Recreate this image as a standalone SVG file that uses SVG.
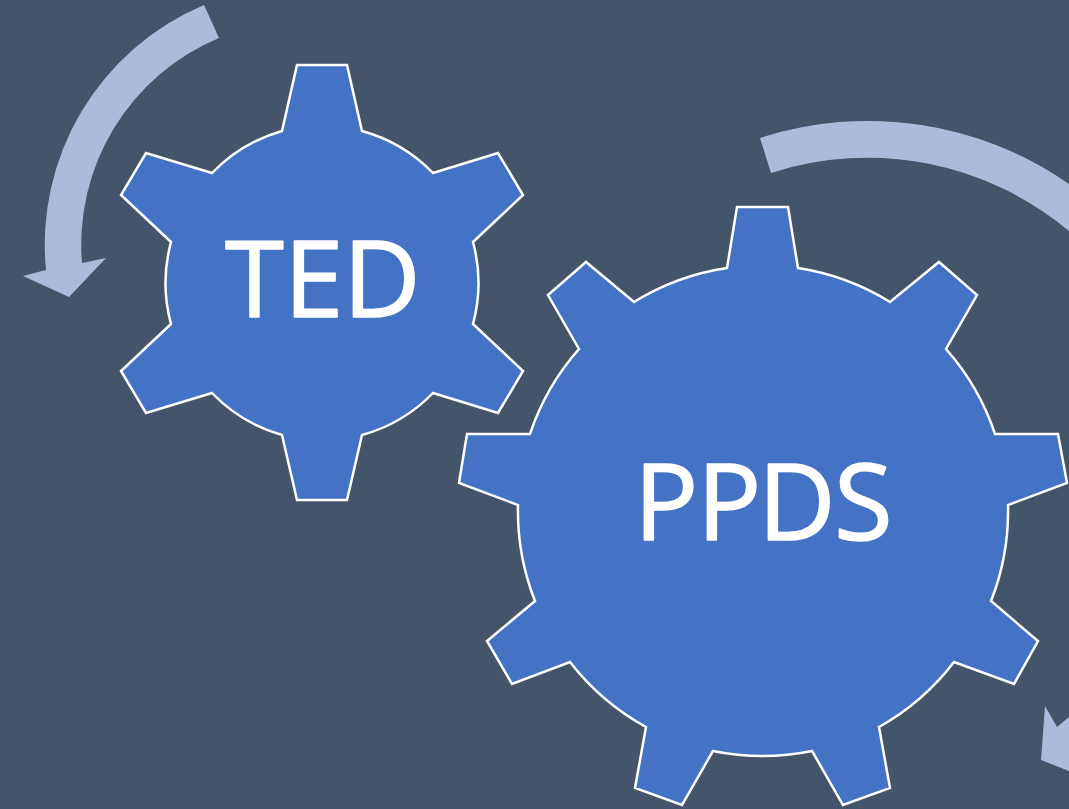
<svg xmlns="http://www.w3.org/2000/svg" width="1069" height="809" viewBox="0 0 1069 809">
<style>
.gear{fill:#4472C4;stroke:#fff;stroke-width:2.5;stroke-linejoin:miter}
.arrow{fill:#AEBADC}
.label{font-family:"Open Sans","Liberation Sans",sans-serif;font-size:107px;fill:#fff;stroke:#fff;stroke-width:1.5;stroke-linejoin:round}
</style>
<rect width="1069" height="809" fill="#44546A"/>
<g id="connectors">
<path class="arrow" d="M204 5A260 260 0 0 0 46 270L23 276L69 297L106 258L82 263A224 224 0 0 1 219 38Z"/>
<path class="arrow" d="M760 138A351 351 0 0 1 1069 184L1110 300L1077 753L1087 778L1041 760L1045 706L1057 727L1069 717L1069 231A314 314 0 0 0 771 173Z"/>
</g>
<g id="ted">
<path class="gear" d="M297 65H347L362 131A157 157 0 0 1 433 173L498 153L523 195L473 242A157 157 0 0 1 473 324L523 371L498 413L433 393A157 157 0 0 1 362 435L347 500H297L282 435A157 157 0 0 1 212 393L146 413L121 371L171 324A157 157 0 0 1 171 242L121 195L146 153L212 173A157 157 0 0 1 282 131Z"/>
<text class="label" x="225 284 343" y="317">TED</text>
</g>
<g id="ppds">
<path class="gear" d="M737 207H788L798 268A245 245 0 0 1 890 302L939 262L977 295L946 349A245 245 0 0 1 995 434H1058L1067 483L1008 505A246 246 0 0 1 991 601L1038 641L1014 684L954 662A246 246 0 0 1 879 727L890 788L843 805L812 751A246 246 0 0 1 713 751L682 805L635 788L646 727A246 246 0 0 1 570 662L512 684L487 641L535 601A246 246 0 0 1 518 505L459 483L467 434H530A245 245 0 0 1 579 349L548 295L586 262L634 302A245 245 0 0 1 727 268Z"/>
<text class="label" x="634 697 758 834" y="540">PPDS</text>
</g>
</svg>
